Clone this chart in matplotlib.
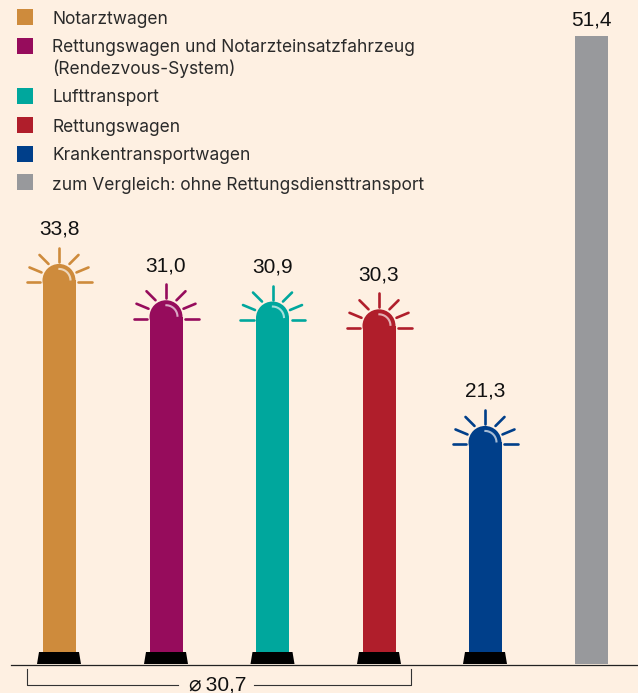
"""
Bar chart of days per transport type, drawn as blue lights on a base.
"""

import matplotlib

matplotlib.use("Agg")
import matplotlib.pyplot as plt
import numpy as np
from matplotlib.patches import Ellipse, Polygon, Rectangle

legend_labels = [
    "Notarztwagen",
    "Rettungswagen und Notarzteinsatzfahrzeug\n(Rendezvous-System)",
    "Lufttransport",
    "Rettungswagen",
    "Krankentransportwagen",
    "zum Vergleich: ohne Rettungsdiensttransport",
]
values = [33.8, 31.0, 30.9, 30.3, 21.3, 51.4]
value_labels = ["33,8", "31,0", "30,9", "30,3", "21,3", "51,4"]
colors = ["#CE8B3C", "#960C5C", "#00A79D", "#B01E2B", "#003F8A", "#98999C"]
average_label = "\u2300\u200930,7"

BACKGROUND = "#FEF0E2"
PX_PER_UNIT = 12.96
ZERO_PX = 702
BAR_PX = 33
legend_square_tops = [9, 38, 88, 117, 146, 174]
legend_text_centers = [19, 58.5, 98, 127, 156, 185]
bar_centers = [59, 166, 272.5, 379, 485, 591.5]
# ray start and end in pixels from the middle of the light
rays = [
    ((19, 0), (32.5, 0)),
    ((17.5, 10), (29.5, 15)),
    ((10.5, 18.5), (19.5, 27.5)),
]


def py(pixel_y):
    """Converts a pixel row of the image to a value on the y axis."""
    return (ZERO_PX - pixel_y) / PX_PER_UNIT


def draw_rays(ax, x, center_y, color):
    segments = [((0, 20.5), (0, 34.5))]
    for start, end in rays:
        segments.append((start, end))
        segments.append(((-start[0], start[1]), (-end[0], end[1])))
    for start, end in segments:
        ax.plot(
            [x + start[0], x + end[0]],
            [center_y + start[1] / PX_PER_UNIT, center_y + end[1] / PX_PER_UNIT],
            color=color,
            lw=1.9,
            solid_capstyle="round",
        )


def draw_highlight(ax, x, center_y):
    angles = np.radians(np.linspace(5, 88, 20))
    ax.plot(
        x + 11.5 * np.cos(angles),
        center_y + 11.5 * np.sin(angles) / PX_PER_UNIT,
        color="white",
        alpha=0.65,
        lw=1.5,
    )


fig, ax = plt.subplots(figsize=(6.38, 6.93), dpi=100)
fig.patch.set_facecolor(BACKGROUND)
ax.set_position([0, 0, 1, 1])
ax.set_facecolor(BACKGROUND)
ax.set_xlim(0, 638)
ax.set_ylim(py(693), py(0))
ax.axis("off")

base_value = py(664)
radius = BAR_PX / 2 / PX_PER_UNIT

for i, (x, value, color) in enumerate(zip(bar_centers, values, colors)):
    if i == 5:
        ax.bar(x, value - base_value, bottom=base_value, width=BAR_PX, color=color)
        ax.text(x, value + py(0) - py(6), value_labels[i], ha="center", va="bottom",
                fontsize=15, family="Liberation Sans", color="#111111")
        continue
    ax.bar(x, value - radius - base_value, bottom=base_value, width=BAR_PX, color=color)
    ax.add_patch(Ellipse((x, value - radius), BAR_PX, BAR_PX / PX_PER_UNIT, color=color, lw=0))
    draw_highlight(ax, x, value - radius)
    draw_rays(ax, x, value - radius - 2 / PX_PER_UNIT, color)
    ax.text(x, value + py(0) - py(25), value_labels[i], ha="center", va="bottom",
            fontsize=15, family="Liberation Sans", color="#111111")
    ax.add_patch(Polygon(
        [(x - 22, py(664)), (x - 20, py(652)), (x + 20, py(652)), (x + 22, py(664))],
        closed=True, color="black", lw=0, zorder=3,
    ))

# baseline
ax.plot([11, 638], [py(664.5), py(664.5)], color="#222222", lw=0.9, zorder=4)

# bracket for the average
ax.plot([27, 27, 178], [py(669), py(685), py(685)], color="#333333", lw=0.8)
ax.plot([254, 411, 411], [py(685), py(685), py(669)], color="#333333", lw=0.8)
ax.text(218, py(685), average_label, ha="center", va="center", fontsize=15,
        family=["Liberation Sans", "DejaVu Sans"], color="#111111")

# legend
for top, center, label, color in zip(legend_square_tops, legend_text_centers, legend_labels, colors):
    ax.add_patch(Rectangle((17, py(top + 16)), 16, 16 / PX_PER_UNIT, color=color, lw=0))
    ax.text(52, py(center), label, ha="left", va="center", fontsize=12.5,
            family="Inter", color="#2A2A2A", linespacing=1.24)

fig.savefig("out.png", dpi=100, facecolor=BACKGROUND)
